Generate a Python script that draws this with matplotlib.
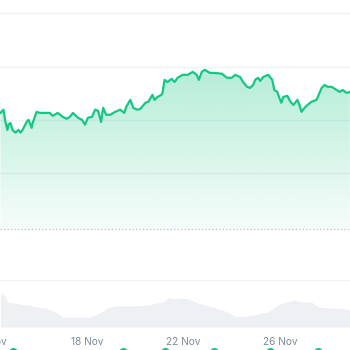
import numpy as np
import matplotlib
matplotlib.use("Agg")
import matplotlib.pyplot as plt
from matplotlib.transforms import blended_transform_factory

# hours since 14 Nov 00:00 and price (USD)
price_hours = [10, 13, 15, 17, 18, 20, 22, 25, 28, 30, 32, 36, 38, 41, 42, 46, 49, 54, 59, 62,
               67, 72, 76, 79, 82, 87, 91, 94, 97, 101, 104, 107, 110, 112, 115, 119, 124, 129, 133, 135,
               139, 142, 146, 149, 154, 157, 161, 163, 166, 170, 171, 173, 176, 180, 183, 186, 191, 196, 201, 205,
               207, 210, 213, 218, 223, 230, 235, 240, 243, 248, 251, 255, 258, 261, 263, 266, 268, 271, 276, 280,
               282, 285, 287, 289, 291, 295, 298, 301, 305, 307, 309, 312, 315, 319, 324, 329, 332, 335, 339, 344,
               347, 350, 354, 357]
price_values = [91300, 91900, 89600, 88100, 89100, 89400, 88100, 87600, 88100, 87600,
                88100, 89600, 90000, 88500, 89400, 91500, 91300, 91300, 91300, 90750,
                91300, 90550, 90200, 90550, 91300, 90400, 90000, 89100, 90400, 90550,
                91900, 91700, 89600, 92250, 90950, 90950, 91500, 91900, 91300, 92450,
                93750, 92250, 91900, 92050, 93200, 93400, 94700, 93750, 94300, 94700,
                95050, 97500, 97100, 97700, 97100, 97900, 98450, 98450, 99000, 98450,
                97500, 99000, 99400, 98800, 98800, 98650, 97900, 97900, 98450, 98050,
                97100, 96200, 96000, 96550, 97500, 97900, 97300, 98050, 98450, 97500,
                95600, 95250, 94150, 93200, 94300, 94500, 93400, 92800, 93750, 92800,
                91500, 92250, 92800, 93400, 93750, 96000, 96550, 96200, 96200, 95600,
                95250, 95600, 95050, 95250]

# trading volume (billion USD)
volume_hours = [10, 13, 17, 23, 36, 46, 56, 66, 72, 86, 99, 109, 116, 124, 144, 157, 164, 172, 176, 183,
                190, 196, 206, 220, 233, 243, 253, 263, 276, 283, 290, 301, 311, 319, 325, 339, 349, 357]
volume_values = [68, 72, 53, 51, 47, 43, 40, 30, 21, 21, 21, 30, 40, 45, 45, 47, 51, 53, 62, 60,
                 62, 60, 51, 43, 34, 23, 23, 26, 32, 43, 51, 57, 53, 53, 43, 40, 40, 36]

event_hours = [23, 132, 173, 222, 278, 325]

tick_hours = [0, 96, 192, 288]
tick_labels = ["14 Nov", "18 Nov", "22 Nov", "26 Nov"]

GREEN = "#16c784"
GRID = "#eff2f5"
TEXT = "#808a9d"

fig = plt.figure(figsize=(3.5, 3.5), dpi=100)
xlim = (9.6, 357.2)

# price panel
ax = fig.add_axes([0, 229 / 350, 1, 0.0])
ax.set_position([0, (350 - 229) / 350, 1, 229 / 350])
ylo, yhi = 69500, 112500
ax.set_xlim(*xlim)
ax.set_ylim(ylo, yhi)
for v in [80000, 90000, 100000, 110000]:
    ax.axhline(v, color=GRID, lw=1, zorder=0)
ax.axhline(ylo, color="#c3c9d2", lw=1, ls=(0, (1, 1.5)), zorder=1, clip_on=False)

poly = ax.fill_between(price_hours, price_values, ylo, color="none", lw=0)
grad = np.linspace(0.32, 0.04, 256).reshape(-1, 1)
rgba = np.zeros((256, 1, 4))
rgba[..., 0], rgba[..., 1], rgba[..., 2] = 22 / 255, 199 / 255, 132 / 255
rgba[..., 3] = grad
img = ax.imshow(rgba, aspect="auto", extent=[xlim[0], xlim[1], ylo, 99500],
                origin="upper", zorder=1)
img.set_clip_path(poly.get_paths()[0], transform=ax.transData)
ax.plot(price_hours, price_values, color=GREEN, lw=1.6, zorder=3, solid_joinstyle="round")
ax.axis("off")

# volume panel
axv = fig.add_axes([0, 23 / 350, 1, 47 / 350])
axv.set_xlim(*xlim)
axv.set_ylim(0, 100)
axv.axhline(100, color=GRID, lw=1, zorder=0)
axv.fill_between(volume_hours, volume_values, 0, color="#eef0f3", lw=0)
axv.axis("off")

trans = blended_transform_factory(axv.transData, fig.transFigure)
for h, lab in zip(tick_hours, tick_labels):
    axv.text(h, 1 - 342 / 350, lab, transform=trans, ha="center", va="center",
             fontsize=7.3, color=TEXT, family="Inter", clip_on=False)
axv.scatter(event_hours, [1 - 352 / 350] * len(event_hours), transform=trans,
            marker="o", s=30, color=GREEN, clip_on=False, zorder=5)

fig.savefig("out.png", dpi=100)
